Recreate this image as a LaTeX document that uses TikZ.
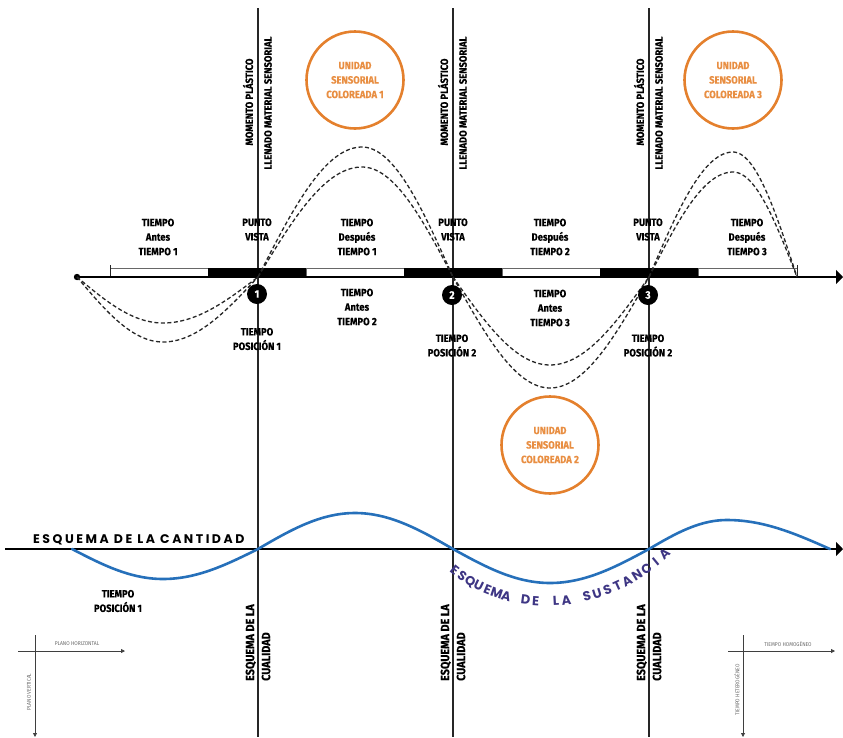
\documentclass[tikz,border=0pt]{standalone}
\usepackage{fontspec}
\setmainfont{Fira Sans}[FakeStretch=0.9, BoldFeatures={FakeBold=0.3}]
\newfontfamily\widefont{Poppins}[LetterSpace=20]
\newfontfamily\arcfont{Poppins}
\usetikzlibrary{arrows.meta}
\definecolor{ink}{RGB}{38,38,38}
\definecolor{orng}{RGB}{228,128,45}
\definecolor{orngtxt}{RGB}{232,142,66}
\definecolor{wave}{RGB}{38,112,186}
\definecolor{sust}{RGB}{62,54,132}
\definecolor{faint}{RGB}{105,105,105}

\begin{document}
\begin{tikzpicture}[x=1pt,y=-1pt,
  lbl/.style={font=\bfseries\fontsize{10.5}{14.5}\selectfont, align=center, inner sep=0pt, text=black},
  vlbl/.style={font=\bfseries\fontsize{10.5}{12}\selectfont, rotate=90, inner sep=0pt},
  qlbl/.style={font=\bfseries\fontsize{12}{16}\selectfont, rotate=90, align=left, inner sep=0pt, anchor=west},
  guide/.style={draw=ink, line width=1.3pt},
  dashline/.style={draw=ink, line width=1.3pt, dash pattern=on 4pt off 2.5pt},
  unit/.style={circle, draw=orng, line width=2.6pt, minimum size=97pt, inner sep=0pt, align=center, text=orngtxt, font=\bfseries\fontsize{10.5}{14.5}\selectfont},
  num/.style={circle, fill=black, minimum size=20pt, inner sep=0pt, text=white, font=\bfseries\fontsize{11}{10}\selectfont},
  tiny/.style={font=\fontsize{5.5}{6}\selectfont, text=faint, inner sep=0pt},
  arcletter/.style={font=\arcfont\bfseries\fontsize{13}{13}\selectfont, text=sust, inner sep=0pt, sloped, anchor=base},
  smallaxis/.style={draw=faint!60!black, line width=0.8pt, -{Triangle[length=4pt,width=4pt]}},
  bigtip/.style={-{Triangle[length=7pt,width=14pt]}},
]
\useasboundingbox (0,0) rectangle (843,737);

% vertical guide lines
\foreach \i/\lx in {1/258,2/453,3/649}{
  \coordinate (top\i) at (\lx,8);
  \coordinate (bot\i) at (\lx,737);
  \draw[guide] (top\i) -- (bot\i);
}

% time bars along the main axis
\foreach \a/\b in {110/208,306/404,502/600,698/797}
  \draw[draw=ink!70, line width=0.6pt, fill=white] (\a,268.5) rectangle (\b,277);
\foreach \a/\b in {208/306,404/502,600/698}
  \fill[black] (\a,268) rectangle (\b,277);
\draw[ink, line width=1pt] (110,265) -- (110,277);
\draw[ink, line width=1pt] (797,265) -- (797,277);

% main time axis
\coordinate (start) at (77,277);
\coordinate (axend) at (843,277);
\draw[black, line width=2pt, bigtip] (start) -- (axend);
\fill[black] (start) circle (3.2pt);

% dashed pairs of arcs between the crossing points
\foreach \xa/\xp/\xb/\amp in {77/163/258/-46, 77/163/258/-65,
    258/362/453/130, 258/362/453/110,
    453/550/649/-88, 453/550/649/-111,
    649/733/797/125, 649/733/797/105}{
  \draw[dashline] plot[domain=0:180, samples=60]
    ({\xa+(\xp-\xa)*min(\x,90)/90+(\xb-\xp)*max(\x-90,0)/90}, {277-(\amp)*sin(\x)});
}

% numbered crossing markers
\node[num] (n1) at (257,294) {1};
\node[num] (n2) at (452,295) {2};
\node[num] (n3) at (648,295) {3};

% labels above the axis
\node[lbl] (ta1) at (158,237) {TIEMPO\\Antes\\TIEMPO 1};
\node[lbl] (pv1) at (257,229.5) {PUNTO\\VISTA};
\node[lbl] (td1) at (357,237) {TIEMPO\\Después\\TIEMPO 1};
\node[lbl] (pv2) at (453,229.5) {PUNTO\\VISTA};
\node[lbl] (td2) at (550,237) {TIEMPO\\Después\\TIEMPO 2};
\node[lbl] (pv3) at (648,229.5) {PUNTO\\VISTA};
\node[lbl] (td3) at (747,237) {TIEMPO\\Después\\TIEMPO 3};

% labels below the axis
\node[lbl] (ta2) at (357,307) {TIEMPO\\Antes\\TIEMPO 2};
\node[lbl] (ta3) at (550,308) {TIEMPO\\Antes\\TIEMPO 3};
\node[lbl] (tp1) at (257,339) {TIEMPO\\POSICIÓN 1};
\node[lbl] (tp2) at (452,345.5) {TIEMPO\\POSICIÓN 2};
\node[lbl] (tp3) at (648,345.5) {TIEMPO\\POSICIÓN 2};

% rotated labels along the guide lines
\foreach \i/\lx in {1/258,2/453,3/649}{
  \node[vlbl] (mp\i) at (\lx-10,102) {MOMENTO PLÁSTICO};
  \node[vlbl] (lm\i) at (\lx+10,103) {LLENADO MATERIAL SENSORIAL};
  \node[qlbl] (ec\i) at (\lx,681) {ESQUEMA DE LA\\CUALIDAD};
}

% coloured sensory units
\node[unit] (u1) at (355,80) {UNIDAD\\SENSORIAL\\COLOREADA 1};
\node[unit] (u2) at (550,445) {UNIDAD\\SENSORIAL\\COLOREADA 2};
\node[unit] (u3) at (733,80) {UNIDAD\\SENSORIAL\\COLOREADA 3};

% lower axis and wave
\coordinate (qstart) at (5,549);
\coordinate (qend) at (843,549);
\draw[black, line width=2pt, bigtip] (qstart) -- (qend);
\foreach \xa/\xp/\xb/\amp in {72/163/258/-30, 258/355/453/36, 453/550/649/-34, 649/727/830/29}{
  \draw[wave, line width=2.6pt, line cap=round] plot[domain=0:180, samples=60]
    ({\xa+(\xp-\xa)*min(\x,90)/90+(\xb-\xp)*max(\x-90,0)/90}, {549-(\amp)*sin(\x)});
}
\node[font=\widefont\bfseries\fontsize{12.5}{13}\selectfont, anchor=base west, inner sep=0pt] (cant) at (33,543) {ESQUEMA DE LA CANTIDAD};

% curved caption under the wave, one letter at a time
\coordinate (arcA) at (448,571);
\coordinate (arcB) at (672,553);
\foreach \c [count=\i] in {E,S,Q,U,E,M,A,{},D,E,{},L,A,{},S,U,S,T,A,N,C,I,A}{
  \path (arcA) .. controls (505,620) and (605,620) .. (arcB)
    node[arcletter, pos={(\i-0.5)/23}] (sl\i) {\c};
}
\node[lbl] (tpb) at (118,601) {TIEMPO\\POSICIÓN 1};

% small reference frames in the corners
\coordinate (hl0) at (18,651); \coordinate (hl1) at (125,651);
\coordinate (vl0) at (35,635); \coordinate (vl1) at (35,737);
\draw[smallaxis] (hl0) -- (hl1);
\draw[smallaxis] (vl0) -- (vl1);
\node[tiny] (ph) at (77,644) {PLANO HORIZONTAL};
\node[tiny, rotate=90] (pvt) at (29,692) {PLANO VERTICAL};

\coordinate (hr0) at (728,651); \coordinate (hr1) at (835,651);
\coordinate (vr0) at (743,635); \coordinate (vr1) at (743,737);
\draw[smallaxis] (hr0) -- (hr1);
\draw[smallaxis] (vr0) -- (vr1);
\node[tiny] (th) at (788,644) {TIEMPO HOMOGÉNEO};
\node[tiny, rotate=90] (tht) at (737,690) {TIEMPO HETEROGÉNEO};
\end{tikzpicture}
\end{document}
